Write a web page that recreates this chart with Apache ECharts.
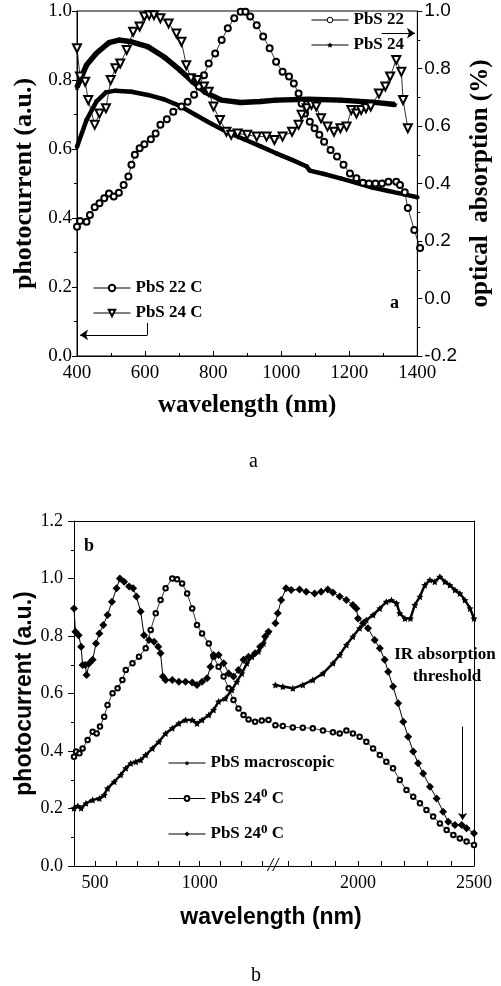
<!DOCTYPE html>
<html><head><meta charset="utf-8">
<script src="https://cdn.jsdelivr.net/npm/echarts@6/dist/echarts.min.js"></script>
<style>html,body{margin:0;padding:0;background:#fff}#c{width:501px;height:986px}</style>
</head><body><div id="c"></div>
<script>
const serif = 'Liberation Serif';
const sans = 'Liberation Sans';

// ---------- Panel a data ----------
// photocurrent (left axis)
const aPbS22C = [[400,0.375],[409,0.391],[428,0.389],[438,0.409],[452,0.431],[466,0.443],[480,0.457],[494,0.471],[508,0.462],[523,0.473],[537,0.496],[551,0.520],[560,0.554],[570,0.583],[584,0.602],[598,0.614],[617,0.628],[631,0.645],[645,0.670],[664,0.686],[683,0.708],[707,0.723],[725,0.737],[744,0.757],[758,0.781],[773,0.814],[787,0.848],[806,0.877],[825,0.916],[843,0.950],[862,0.979],[881,0.998],[895,0.998],[909,0.984],[928,0.959],[947,0.926],[966,0.892],[985,0.853],[1004,0.824],[1023,0.810],[1037,0.790],[1051,0.761],[1060,0.732],[1070,0.703],[1084,0.679],[1098,0.660],[1112,0.641],[1126,0.621],[1145,0.597],[1164,0.578],[1183,0.554],[1202,0.529],[1221,0.515],[1240,0.502],[1258,0.500],[1277,0.500],[1296,0.500],[1315,0.505],[1338,0.505],[1349,0.496],[1363,0.475],[1372,0.429],[1391,0.365],[1408,0.313]];
const aPbS24C = [[400,0.892],[409,0.810],[424,0.795],[433,0.742],[452,0.670],[466,0.703],[485,0.718],[499,0.800],[513,0.834],[527,0.848],[546,0.887],[565,0.940],[584,0.955],[598,0.984],[612,0.988],[626,0.988],[645,0.979],[669,0.964],[692,0.935],[707,0.911],[721,0.843],[735,0.805],[754,0.800],[773,0.781],[787,0.766],[801,0.723],[820,0.684],[839,0.650],[853,0.641],[872,0.645],[900,0.641],[928,0.636],[957,0.636],[980,0.626],[1004,0.636],[1032,0.650],[1051,0.670],[1060,0.699],[1075,0.718],[1089,0.728],[1103,0.723],[1117,0.689],[1136,0.665],[1155,0.650],[1174,0.660],[1192,0.665],[1206,0.713],[1221,0.703],[1235,0.713],[1249,0.718],[1263,0.723],[1287,0.761],[1306,0.781],[1320,0.810],[1338,0.858],[1353,0.824],[1358,0.742],[1372,0.660]];
// optical absorption (right axis)
const aPbS22 = [[400,0.528],[428,0.621],[457,0.685],[485,0.717],[513,0.723],[560,0.719],[608,0.708],[655,0.693],[702,0.670],[749,0.638],[796,0.607],[843,0.578],[891,0.554],[938,0.530],[985,0.505],[1032,0.482],[1075,0.459],[1084,0.445],[1126,0.433],[1174,0.418],[1221,0.402],[1268,0.386],[1315,0.374],[1362,0.362],[1400,0.352]];
const aPbS24 = [[400,0.735],[428,0.812],[457,0.853],[494,0.890],[523,0.899],[560,0.893],[608,0.876],[655,0.841],[702,0.795],[740,0.754],[777,0.717],[825,0.690],[881,0.682],[938,0.685],[985,0.690],[1079,0.693],[1174,0.690],[1268,0.683],[1334,0.675]];
const aXTicks = ['400','600','800','1000','1200','1400'];

// ---------- Panel b data ----------
const bMacroLow = [[400,0.201],[418,0.209],[434,0.201],[457,0.218],[489,0.230],[521,0.235],[544,0.247],[560,0.270],[592,0.293],[623,0.317],[647,0.340],[671,0.357],[695,0.363],[718,0.369],[742,0.386],[774,0.409],[805,0.432],[837,0.461],[869,0.479],[900,0.496],[932,0.508],[964,0.508],[987,0.496],[1011,0.508],[1043,0.525],[1066,0.543],[1090,0.572],[1122,0.583],[1153,0.612],[1177,0.641],[1201,0.670],[1225,0.705],[1249,0.728],[1280,0.746],[1304,0.774],[1328,0.815]];
const bMacroHigh = [[1644,0.630],[1676,0.624],[1719,0.618],[1762,0.630],[1805,0.647],[1849,0.670],[1892,0.705],[1921,0.734],[1950,0.769],[1978,0.798],[2007,0.827],[2036,0.856],[2065,0.873],[2094,0.896],[2122,0.919],[2144,0.925],[2166,0.914],[2180,0.879],[2202,0.861],[2226,0.861],[2245,0.908],[2267,0.937],[2288,0.977],[2310,0.995],[2331,0.989],[2353,1.006],[2375,0.989],[2396,0.977],[2418,0.960],[2439,0.948],[2461,0.925],[2483,0.896],[2500,0.861]];
const bOpenLow = [[400,0.380],[410,0.398],[426,0.392],[441,0.409],[465,0.438],[489,0.467],[508,0.461],[524,0.485],[544,0.519],[560,0.560],[584,0.601],[608,0.618],[631,0.647],[647,0.682],[679,0.705],[710,0.728],[742,0.757],[766,0.821],[790,0.879],[813,0.925],[837,0.966],[869,1.000],[892,0.997],[916,0.983],[940,0.948],[964,0.896],[987,0.838],[1011,0.809],[1043,0.774],[1066,0.728],[1090,0.693],[1114,0.659],[1138,0.618],[1161,0.577],[1185,0.548],[1209,0.525],[1233,0.510],[1264,0.502],[1296,0.506],[1328,0.508]];
const bOpenHigh = [[1644,0.490],[1676,0.487],[1719,0.482],[1762,0.481],[1805,0.479],[1849,0.471],[1892,0.465],[1921,0.461],[1950,0.471],[1978,0.461],[2007,0.450],[2036,0.432],[2065,0.409],[2094,0.386],[2122,0.363],[2151,0.340],[2180,0.299],[2209,0.264],[2238,0.241],[2267,0.218],[2295,0.195],[2324,0.172],[2353,0.148],[2382,0.125],[2411,0.108],[2439,0.096],[2468,0.085],[2500,0.073]];
const bFilledLow = [[400,0.896],[407,0.815],[422,0.803],[434,0.763],[441,0.699],[454,0.699],[460,0.664],[473,0.705],[489,0.717],[505,0.774],[521,0.809],[540,0.838],[560,0.873],[581,0.919],[603,0.966],[619,1.000],[639,0.989],[663,0.972],[682,0.966],[698,0.937],[718,0.885],[734,0.803],[758,0.786],[782,0.780],[802,0.763],[813,0.740],[824,0.659],[837,0.647],[869,0.647],[900,0.641],[932,0.641],[964,0.638],[987,0.630],[1011,0.641],[1035,0.653],[1051,0.693],[1066,0.734],[1090,0.734],[1114,0.705],[1138,0.670],[1161,0.659],[1185,0.682],[1209,0.717],[1233,0.728],[1264,0.740],[1288,0.763],[1312,0.798],[1328,0.815]];
const bFilledHigh = [[1644,0.844],[1654,0.879],[1669,0.925],[1690,0.966],[1712,0.960],[1748,0.962],[1777,0.954],[1813,0.948],[1841,0.954],[1870,0.962],[1892,0.951],[1921,0.937],[1950,0.925],[1978,0.908],[1993,0.896],[2000,0.861],[2022,0.844],[2043,0.827],[2072,0.786],[2094,0.757],[2115,0.717],[2130,0.676],[2151,0.624],[2173,0.566],[2195,0.502],[2216,0.450],[2238,0.398],[2259,0.357],[2281,0.322],[2310,0.276],[2339,0.235],[2367,0.189],[2389,0.154],[2418,0.143],[2447,0.143],[2468,0.131],[2500,0.114]];
const bLowTicks = [500,600,700,800,900,1000,1100,1200,1300];
const bLowLabels = [500,1000];
const bHighTicks = [1700,1800,1900,2000,2100,2200,2300,2400,2500];
const bHighLabels = [2000,2500];
const bLegendNames = ['PbS macroscopic','PbS 24 0 C (open)','PbS 24 0 C (filled)'];

const star = 'path://M0,-10L2.9,-4L9.5,-3.1L4.8,1.5L5.9,8.1L0,5L-5.9,8.1L-4.8,1.5L-9.5,-3.1L-2.9,-4Z';
const black = '#000';
const axisBase = {
  axisLine: {show: true, onZero: false, lineStyle: {color: black, width: 1}},
  splitLine: {show: false}
};
const plain = (v) => String(v);

const option = {
  animation: false,
  backgroundColor: '#fff',
  grid: [
    {left: 77, top: 11, width: 353, height: 345, show: true, borderColor: black, borderWidth: 1, backgroundColor: 'transparent'},
    {left: 74, top: 521, width: 197, height: 345},
    {left: 271, top: 521, width: 203, height: 345}
  ],
  xAxis: [
    Object.assign({}, axisBase, {type: 'value', gridIndex: 0, min: 400, max: 1400, interval: 200,
      axisTick: {show: true, inside: true, length: 5, lineStyle: {color: black}},
      minorTick: {show: true, splitNumber: 2, length: 3, lineStyle: {color: black}},
      axisLabel: {fontFamily: serif, fontSize: 19, color: black, margin: 8, formatter: (v) => aXTicks.includes(String(v)) ? String(v) : ''},
      name: 'wavelength (nm)', nameLocation: 'middle', nameGap: 37,
      nameTextStyle: {fontFamily: serif, fontWeight: 'bold', fontSize: 25, color: black}}),
    Object.assign({}, axisBase, {type: 'value', gridIndex: 1, min: 400, max: 1340,
      axisTick: {show: true, inside: true, length: 5, customValues: bLowTicks, lineStyle: {color: black}},
      axisLabel: {fontFamily: serif, fontSize: 18, color: black, margin: 8, customValues: bLowLabels, formatter: plain}}),
    Object.assign({}, axisBase, {type: 'value', gridIndex: 1, min: 400, max: 1340, position: 'top',
      axisTick: {show: false}, axisLabel: {show: false}}),
    Object.assign({}, axisBase, {type: 'value', gridIndex: 2, min: 1625, max: 2500,
      axisTick: {show: true, inside: true, length: 5, customValues: bHighTicks, lineStyle: {color: black}},
      axisLabel: {fontFamily: serif, fontSize: 18, color: black, margin: 8, customValues: bHighLabels, formatter: plain}}),
    Object.assign({}, axisBase, {type: 'value', gridIndex: 2, min: 1625, max: 2500, position: 'top',
      axisTick: {show: false}, axisLabel: {show: false}})
  ],
  yAxis: [
    Object.assign({}, axisBase, {type: 'value', gridIndex: 0, min: 0, max: 1, interval: 0.2, position: 'left',
      axisTick: {show: true, length: 5, lineStyle: {color: black}},
      minorTick: {show: true, splitNumber: 2, length: 3, lineStyle: {color: black}},
      axisLabel: {fontFamily: serif, fontSize: 19, color: black, margin: 5, formatter: (v) => v.toFixed(1)},
      name: 'photocurrent (a.u.)', nameLocation: 'middle', nameGap: 25, nameRotate: 90,
      nameTextStyle: {fontFamily: serif, fontWeight: 'bold', fontSize: 26, color: black}}),
    Object.assign({}, axisBase, {type: 'value', gridIndex: 0, min: -0.2, max: 1, interval: 0.2, position: 'right',
      axisTick: {show: true, length: 5, lineStyle: {color: black}},
      minorTick: {show: true, splitNumber: 2, length: 3, lineStyle: {color: black}},
      axisLabel: {fontFamily: sans, fontSize: 19, color: black, margin: 7, formatter: (v) => v.toFixed(1)},
      name: 'optical  absorption (%)', nameLocation: 'middle', nameGap: 41, nameRotate: 90,
      nameTextStyle: {fontFamily: serif, fontWeight: 'bold', fontSize: 25, color: black}}),
    Object.assign({}, axisBase, {type: 'value', gridIndex: 1, min: 0, max: 1.2, interval: 0.2, position: 'left',
      axisTick: {show: true, length: 6, lineStyle: {color: black}},
      minorTick: {show: true, splitNumber: 2, length: 3, lineStyle: {color: black}},
      axisLabel: {fontFamily: serif, fontSize: 18, color: black, margin: 11, formatter: (v) => v.toFixed(1)},
      name: 'photocurrent (a.u.)', nameLocation: 'middle', nameGap: 37, nameRotate: 90,
      nameTextStyle: {fontFamily: sans, fontWeight: 'bold', fontSize: 23, color: black}}),
    {type: 'value', gridIndex: 2, min: 0, max: 1.2, show: false, splitLine: {show: false}},
    Object.assign({}, axisBase, {type: 'value', gridIndex: 2, min: 0, max: 1.2, position: 'right',
      axisTick: {show: false}, axisLabel: {show: false}})
  ],
  legend: [
    {left: 306, top: 5, orient: 'vertical', itemWidth: 37, itemHeight: 7, itemGap: 5,
     data: [{name: 'PbS 22', itemStyle: {color: '#fff', borderColor: black, borderWidth: 1}}, 'PbS 24'],
     lineStyle: {width: 1},
     textStyle: {fontFamily: serif, fontWeight: 'bold', fontSize: 17, color: black, lineHeight: 20}},
    {left: 88, top: 273, orient: 'vertical', itemWidth: 37, itemHeight: 8, itemGap: 5,
     data: ['PbS 22 C', 'PbS 24 C'],
     lineStyle: {width: 1},
     textStyle: {fontFamily: serif, fontWeight: 'bold', fontSize: 17, color: black, lineHeight: 20}},
    {left: 163, top: 747, orient: 'vertical', itemWidth: 37, itemHeight: 6, itemGap: 13.5,
     data: bLegendNames,
     lineStyle: {width: 1},
     formatter: (n) => n === bLegendNames[0] ? n : 'PbS 24{s|0} C',
     textStyle: {fontFamily: serif, fontWeight: 'bold', fontSize: 17, color: black, lineHeight: 22,
       rich: {s: {fontFamily: serif, fontWeight: 'bold', fontSize: 13, lineHeight: 13, verticalAlign: 'top', color: black}}}}
  ],
  graphic: [
    {type: 'text', left: 390, top: 294, style: {text: 'a', font: 'bold 18px "Liberation Serif"', fill: black}},
    {type: 'text', left: 249, top: 452, style: {text: 'a', font: '20px "Liberation Serif"', fill: black}},
    {type: 'text', left: 84, top: 537, style: {text: 'b', font: 'bold 18px "Liberation Serif"', fill: black}},
    {type: 'text', left: 251, top: 966, style: {text: 'b', font: '20px "Liberation Serif"', fill: black}},
    {type: 'text', x: 445, y: 655, style: {text: 'IR absorption', font: 'bold 17px "Liberation Serif"', fill: black, align: 'center', verticalAlign: 'middle'}},
    {type: 'text', x: 447, y: 677, style: {text: 'threshold', font: 'bold 17px "Liberation Serif"', fill: black, align: 'center', verticalAlign: 'middle'}},
    {type: 'text', x: 271, y: 918, style: {text: 'wavelength (nm)', font: 'bold 23px "Liberation Sans"', fill: black, align: 'center', verticalAlign: 'middle'}},
    {type: 'text', x: 273, y: 866, style: {text: '//', font: 'italic 19px "Liberation Serif"', fill: black, align: 'center', verticalAlign: 'middle'}}
  ],
  series: [
    {name: 'PbS 22 C', type: 'line', xAxisIndex: 0, yAxisIndex: 0, data: aPbS22C, clip: false,
     symbol: 'emptyCircle', symbolSize: 6, itemStyle: {color: black, borderWidth: 1}, lineStyle: {color: black, width: 0.8}, z: 4,
     markLine: {silent: true, symbol: ['none', 'none'], label: {show: false}, lineStyle: {color: black, width: 1, type: 'solid'},
       data: [[{coord: [607, 0.096]}, {coord: [607, 0.061]}]]}},
    {name: 'PbS 24 C', type: 'line', xAxisIndex: 0, yAxisIndex: 0, data: aPbS24C,
     symbol: 'emptyTriangle', symbolRotate: 180, symbolSize: 8, itemStyle: {color: black, borderWidth: 1}, lineStyle: {color: black, width: 0.8}, z: 4,
     markLine: {silent: true, symbol: ['none', 'arrow'], symbolSize: 8, label: {show: false}, lineStyle: {color: black, width: 1, type: 'solid'},
       data: [[{coord: [607, 0.061]}, {coord: [409, 0.061]}]]}},
    {name: 'PbS 22', type: 'line', xAxisIndex: 0, yAxisIndex: 1, data: aPbS22,
     symbol: 'circle', symbolSize: 4.5, itemStyle: {color: black}, lineStyle: {color: black, width: 4.5}, z: 3},
    {name: 'PbS 24', type: 'line', xAxisIndex: 0, yAxisIndex: 1, data: aPbS24,
     symbol: star, symbolSize: 6, itemStyle: {color: black}, lineStyle: {color: black, width: 5.5}, z: 3,
     markLine: {silent: true, symbol: ['none', 'arrow'], symbolSize: 8, label: {show: false}, lineStyle: {color: black, width: 1, type: 'solid'},
       data: [[{coord: [1295, 0.923]}, {coord: [1393, 0.923]}]]}},

    {name: bLegendNames[0], type: 'line', xAxisIndex: 1, yAxisIndex: 2, data: bMacroLow,
     symbol: star, symbolSize: 7, itemStyle: {color: black}, lineStyle: {color: black, width: 2.5}},
    {name: bLegendNames[0], type: 'line', xAxisIndex: 3, yAxisIndex: 3, data: bMacroHigh,
     symbol: star, symbolSize: 7, itemStyle: {color: black}, lineStyle: {color: black, width: 2.5}},
    {name: bLegendNames[1], type: 'line', xAxisIndex: 1, yAxisIndex: 2, data: bOpenLow,
     symbol: 'emptyCircle', symbolSize: 4.5, itemStyle: {color: black, borderWidth: 0.8}, lineStyle: {color: black, width: 0.8}},
    {name: bLegendNames[1], type: 'line', xAxisIndex: 3, yAxisIndex: 3, data: bOpenHigh,
     symbol: 'emptyCircle', symbolSize: 4.5, itemStyle: {color: black, borderWidth: 0.8}, lineStyle: {color: black, width: 0.8}},
    {name: bLegendNames[2], type: 'line', xAxisIndex: 1, yAxisIndex: 2, data: bFilledLow,
     symbol: 'diamond', symbolSize: 8, itemStyle: {color: black}, lineStyle: {color: black, width: 1}},
    {name: bLegendNames[2], type: 'line', xAxisIndex: 3, yAxisIndex: 3, data: bFilledHigh,
     symbol: 'diamond', symbolSize: 8, itemStyle: {color: black}, lineStyle: {color: black, width: 1},
     markLine: {silent: true, symbol: ['none', 'arrow'], symbolSize: 7, label: {show: false}, lineStyle: {color: black, width: 1, type: 'solid'},
       data: [[{coord: [2451, 0.485]}, {coord: [2451, 0.16]}]]}}
  ]
};
const chart = echarts.init(document.getElementById('c'));
chart.setOption(option);
</script></body></html>
